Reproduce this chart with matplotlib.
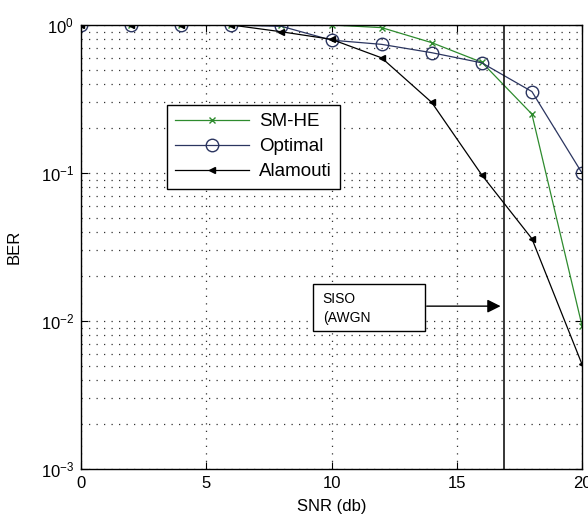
import matplotlib
matplotlib.use("Agg")
import matplotlib.pyplot as plt
from matplotlib.ticker import LogLocator, FixedLocator, NullFormatter
from matplotlib.patches import Rectangle

plt.rcParams['font.family'] = ['Liberation Sans', 'DejaVu Sans']

snr = [0, 2, 4, 6, 8, 10, 12, 14, 16, 18, 20]
ber_smhe = [1.0, 1.0, 1.0, 1.0, 1.0, 1.0, 0.96, 0.76, 0.56, 0.25, 0.0093]
ber_optimal = [1.0, 1.0, 1.0, 1.0, 0.98, 0.79, 0.74, 0.65, 0.555, 0.355, 0.1]
ber_alamouti = [1.0, 1.0, 1.0, 1.0, 0.9, 0.8, 0.6, 0.30, 0.097, 0.036, 0.0051]
siso_snr = 16.9
x_ticks = [0, 5, 10, 15, 20]

fig = plt.figure(figsize=(5.88, 5.16), dpi=100)
ax = fig.add_axes([81 / 588, 47 / 516, 501 / 588, 444 / 516])

ax.semilogy(snr, ber_smhe, color='#2e8b2e', lw=0.9, marker='x', ms=4, mew=1, label='SM-HE')
ax.semilogy(snr, ber_optimal, color='#2b3560', lw=0.9, marker='o', ms=9, mfc='none', mew=1, label='Optimal')
ax.semilogy(snr, ber_alamouti, color='black', lw=0.9, marker='<', ms=4, label='Alamouti')

ax.set_xlim(0, 20)
ax.set_ylim(1e-3, 1)
ax.xaxis.set_major_locator(FixedLocator(x_ticks))
ax.yaxis.set_major_locator(LogLocator(base=10, numticks=10))
ax.yaxis.set_minor_locator(LogLocator(base=10, subs=range(2, 10), numticks=20))
ax.yaxis.set_minor_formatter(NullFormatter())

grid_style = dict(linestyle=(0, (1, 5)), color='#333333', lw=0.9)
ax.grid(True, which='major', axis='both', **grid_style)
ax.grid(True, which='minor', axis='y', **grid_style)
ax.tick_params(which='both', direction='in', top=True, right=True, labelsize=12)
ax.tick_params(which='major', length=5, pad=5)
ax.tick_params(which='minor', length=0)
for sp in ax.spines.values():
    sp.set_linewidth(1.0)

# SISO (AWGN) reference line
ax.axvline(siso_snr, color='black', lw=1.1)

ax.set_xlabel('SNR (db)', fontsize=12, labelpad=6)
ax.set_ylabel('BER', fontsize=12, labelpad=14)

leg = ax.legend(loc='upper left', bbox_to_anchor=(0.1717, 0.82), fontsize=13.5,
                fancybox=False, framealpha=1, edgecolor='black', borderpad=0.45,
                borderaxespad=0, handlelength=3.9, handletextpad=0.55,
                labelspacing=0.42)
leg.get_frame().set_linewidth(1.0)

# annotation box with arrow pointing at the SISO line
ax.add_patch(Rectangle((9.26, 0.0085), 13.73 - 9.26, 0.0178 - 0.0085,
                       fill=True, fc='white', ec='black', lw=1.0, zorder=4))
ax.text(9.65, 0.0121, 'SISO\n(AWGN', fontsize=10, va='center', ha='left',
        linespacing=1.5, zorder=5)
ax.annotate('', xy=(16.75, 0.0126), xytext=(13.8, 0.0126),
            arrowprops=dict(arrowstyle='-|>', color='black', lw=1.0,
                            mutation_scale=20, shrinkA=0, shrinkB=0), zorder=5)

fig.savefig('out.png', dpi=100)
